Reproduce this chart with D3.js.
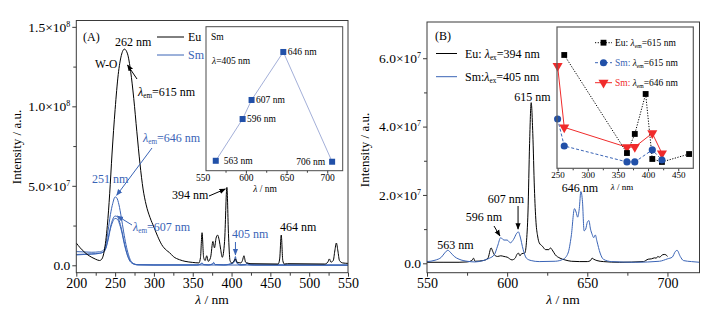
<!DOCTYPE html>
<html>
<head>
<meta charset="utf-8">
<script src="https://cdn.jsdelivr.net/npm/d3@7"></script>
<style>
  body { margin: 0; background: #fff; }
  svg text { font-family: "Liberation Serif", "DejaVu Serif", serif; }
</style>
</head>
<body>
<svg id="chart" width="715" height="310"></svg>
<script>
// ---- data (intensities in units of 1e6) ----
// Panel A: excitation spectra
const euExcitation = [[200,14],[205,11],[210,8.5],[215,6.5],[220,5],[225,3.8],[230,3],[233,4],[236,9],[240,25],[243,45],[246,70],[250,98],[254,120],[258,132],[262,136],[266,133],[270,122],[274,105],[278,84],[282,64],[286,48],[290,38],[295,30],[300,24],[305,18],[310,13],[316,9.5],[320,8],[325,5.5],[333,3.5],[340,2.5],[350,1.8],[358,1.5],[360,5],[362,20.5],[364,5],[366,3],[368,6],[370,2.5],[373,5],[376,15],[378,11],[380,17],[382,19],[384,16],[386,10],[388,5],[391,15],[394,49],[396,20],[398,3],[400,1.5],[403,2.5],[405,4],[407,2],[412,1.5],[414,3],[416,6],[418,2],[420,1.5],[425,1],[460,0.8],[462,4],[464,19],[466,3],[468,0.8],[472,1],[520,0.8],[524,2],[526,4],[528,2],[531,3],[533,9],[535,14],[537,9],[539,3],[543,1.5],[550,1.2]];
const smExcitation646 = [[200,8.6],[210,8.4],[220,8.2],[230,8.5],[235,9.5],[238,13],[241,22],[244,32],[247,39],[250,43],[252,42.5],[255,38],[258,30],[261,21],[264,13],[267,7],[270,3],[274,1],[280,0.3],[300,0.2],[355,0.2],[360,0.8],[362,1.5],[364,0.5],[370,0.3],[375,0.8],[377,1.8],[379,0.5],[390,0.3],[402,1.5],[404,4],[405,5.5],[406,3],[408,1],[412,0.3],[418,0.5],[420,1.5],[422,0.5],[430,0.2],[550,0.1]];
const smExcitation607 = [[200,6.5],[210,6.8],[220,7],[230,7.5],[235,8.5],[238,11],[241,17],[244,24],[247,29],[250,31],[253,30.5],[256,27],[259,21],[262,14],[265,8],[268,4],[272,1.5],[278,0.4],[300,0.2],[355,0.2],[360,0.6],[362,1.1],[364,0.4],[370,0.2],[375,0.6],[377,1.3],[379,0.4],[390,0.2],[402,1.2],[404,3],[405,3.8],[406,2.2],[408,0.8],[412,0.2],[418,0.4],[420,1.1],[422,0.4],[430,0.2],[550,0.1]];
const smExcitation596 = [[200,6.8],[210,7],[220,7.2],[230,7.6],[235,8.3],[238,10.5],[241,16],[244,23],[247,27.5],[250,29.5],[253,29],[256,25.5],[259,20],[262,13],[265,7.5],[268,3.5],[272,1.2],[278,0.3],[300,0.2],[550,0.1]];

// Panel A inset: Sm, lambda = 405 nm
const insetAWl = [563, 596, 607, 646, 706];
const insetAVal = [0.62, 3.23, 4.42, 7.42, 0.56];
const insetALabels = ["563 nm", "596 nm", "607 nm", "646 nm", "706 nm"];

// Panel B: emission spectra
const euEmission = [[550,0.3],[560,0.3],[570,0.3],[575,0.4],[578,0.8],[579,1.5],[580,0.6],[585,0.8],[588,1.5],[590,4.5],[591,3.5],[592,2.5],[594,2],[596,2.2],[598,2],[600,1.8],[603,1],[605,1.5],[606,2.5],[607,3],[608,2.2],[609,2.8],[611,3],[612,6],[613,15],[614,35],[615,47],[616,38],[617,22],[618,12],[619,8],[620,6],[622,5],[624,4],[626,4],[627,4.5],[628,4],[630,2.5],[633,1.5],[636,1],[640,0.6],[645,0.5],[650,0.5],[652,0.8],[653,1.5],[654,1.2],[656,0.8],[660,0.5],[670,0.3],[685,0.5],[688,1.2],[690,1.3],[692,1.6],[693,1.5],[694,2],[695,1.8],[697,2.5],[698,2.6],[699,2.5],[700,2]];
const smEmission = [[550,0.5],[555,0.9],[559,1.8],[561,3],[563,3.8],[565,3],[567,2],[570,1.2],[575,0.6],[580,0.4],[585,0.8],[589,1.5],[592,2.5],[594,5],[596,7.5],[598,6.8],[600,6.8],[602,6],[604,7],[606,8.8],[607,9.2],[608,8],[610,4],[612,1.5],[615,0.8],[620,0.5],[630,0.6],[635,1.2],[638,3],[640,8],[642,16],[643,15],[644,13.5],[645,16],[646,21],[647,18],[648,9.5],[649,10],[650,12],[651,12.5],[652,10],[653,8.5],[654,7.5],[655,8.3],[656,6.5],[658,3],[660,1.2],[665,0.5],[680,0.3],[695,0.6],[700,1.3],[703,1.8],[705,3.5],[706,3.8],[708,2],[710,0.8],[715,0.5],[720,0.3]];

// Panel B inset: excitation wavelength vs intensity
const insetBEuWl = [261, 365, 378, 396, 407, 423, 468];
const insetBEuVal = [8.02, 1.08, 2.43, 5.26, 0.66, 0.45, 1.01];
const insetBSm615Wl = [250, 261, 365, 378, 407, 423];
const insetBSm615Val = [3.49, 1.58, 0.45, 0.45, 1.30, 0.59];
const insetBSm646Wl = [250, 261, 365, 378, 407, 423];
const insetBSm646Val = [7.24, 2.90, 1.49, 1.51, 2.48, 1.06];

const BLUE = "#3a64b6";
const RED = "#f02b2b";
const FRAME = "#3a3a3a";
const TXT = 12; // annotation font size

const svg = d3.select("#chart");
svg.append("rect").attr("width", 715).attr("height", 310).attr("fill", "#fff");

const defs = svg.append("defs");
function arrowMarker(id, colour) {
  defs.append("marker")
    .attr("id", id)
    .attr("viewBox", "0 0 10 10")
    .attr("refX", 9).attr("refY", 5)
    .attr("markerWidth", 6.5).attr("markerHeight", 6.5)
    .attr("orient", "auto-start-reverse")
    .append("path")
    .attr("d", "M0,1 L10,5 L0,9 Z")
    .attr("fill", colour);
}
arrowMarker("arrowK", "#000");
arrowMarker("arrowB", BLUE);

// rich text: segments {t, it, sub, fill}
function richText(sel, x, y, segs, opts = {}) {
  const t = sel.append("text")
    .attr("x", x).attr("y", y)
    .attr("font-size", opts.size || TXT)
    .attr("fill", opts.fill || "#000")
    .attr("text-anchor", opts.anchor || "start");
  segs.forEach((s) => {
    const ts = t.append("tspan").text(s.t);
    if (s.it) ts.attr("font-style", "italic");
    if (s.fill) ts.attr("fill", s.fill);
    if (s.sub) ts.attr("baseline-shift", "-30%").attr("font-size", "60%");
  });
  return t;
}

function styleAxis(g, size) {
  g.attr("font-family", null);
  g.select(".domain").remove();
  g.selectAll(".tick line").attr("stroke", FRAME);
  g.selectAll(".tick text").attr("fill", "#000").attr("font-size", size);
}

function sciTicks(g, expOf, mantOf) {
  g.selectAll(".tick text").each(function (d) {
    const el = d3.select(this);
    el.text("");
    if (d === 0) { el.append("tspan").text("0.0"); return; }
    el.append("tspan").text(mantOf(d).toFixed(1) + "\u00d710");
    el.append("tspan").text(expOf(d)).attr("dy", -5).attr("font-size", 8);
  });
}

function drawFrame(x0, y0, x1, y1, colour, width) {
  svg.append("rect")
    .attr("x", x0).attr("y", y0)
    .attr("width", x1 - x0).attr("height", y1 - y0)
    .attr("fill", "none").attr("stroke", colour).attr("stroke-width", width);
}

// ================= Panel A =================
const xA = d3.scaleLinear().domain([200, 550]).range([76.3, 348]);
const yA = d3.scaleLinear().domain([-4.66, 154]).range([272.7, 20.5]);
const lineA = d3.line().x((d) => xA(d[0])).y((d) => yA(d[1])).curve(d3.curveMonotoneX);

[smExcitation596, smExcitation607, smExcitation646].forEach((s) => {
  svg.append("path").datum(s).attr("d", lineA)
    .attr("fill", "none").attr("stroke", BLUE).attr("stroke-width", 1);
});
svg.append("path").datum(euExcitation).attr("d", lineA)
  .attr("fill", "none").attr("stroke", "#000").attr("stroke-width", 1);

let ax = svg.append("g").attr("transform", "translate(0,272.7)")
  .call(d3.axisBottom(xA).tickValues(d3.range(200, 551, 50)).tickSize(4).tickSizeOuter(0).tickPadding(1));
styleAxis(ax, 14);
ax = svg.append("g").attr("transform", "translate(0,272.7)")
  .call(d3.axisBottom(xA).tickValues(d3.range(225, 550, 50)).tickSize(3).tickFormat(""));
styleAxis(ax, 14);
ax = svg.append("g").attr("transform", "translate(76.3,0)")
  .call(d3.axisLeft(yA).tickValues([0, 50, 100, 150]).tickSize(4).tickPadding(2));
styleAxis(ax, 13.5);
sciTicks(ax, (d) => (d >= 100 ? 8 : 7), (d) => (d >= 100 ? d / 100 : d / 10));
ax = svg.append("g").attr("transform", "translate(76.3,0)")
  .call(d3.axisLeft(yA).tickValues([25, 75, 125]).tickSize(3).tickFormat(""));
styleAxis(ax, 13.5);

drawFrame(76.3, 20.5, 348, 272.7, FRAME, 1);

richText(svg, 212, 304, [{ t: "\u03bb", it: true }, { t: " / nm" }], { anchor: "middle", size: 13.5 });
svg.append("text").attr("transform", "translate(21,147) rotate(-90)")
  .attr("text-anchor", "middle").attr("font-size", 13).text("Intensity / a.u.");

richText(svg, 83, 41, [{ t: "(A)" }]);
richText(svg, 115, 45.5, [{ t: "262 nm" }]);
svg.append("line").attr("x1", 157).attr("x2", 184).attr("y1", 37).attr("y2", 37).attr("stroke", "#000");
richText(svg, 188, 41, [{ t: "Eu" }]);
svg.append("line").attr("x1", 157).attr("x2", 184).attr("y1", 55).attr("y2", 55).attr("stroke", BLUE);
richText(svg, 188, 59, [{ t: "Sm" }], { fill: BLUE });
richText(svg, 95, 67.5, [{ t: "W-O" }], { size: 11.5 });

svg.append("line").attr("x1", 137).attr("y1", 79).attr("x2", xA(266)).attr("y2", yA(126))
  .attr("stroke", "#000").attr("marker-end", "url(#arrowK)");
richText(svg, 138, 95.5, [{ t: "\u03bb", it: true }, { t: "em", sub: true }, { t: "=615 nm" }]);

richText(svg, 143, 142, [{ t: "\u03bb", it: true }, { t: "em", sub: true }, { t: "=646 nm" }], { fill: BLUE });
svg.append("line").attr("x1", 152).attr("y1", 148).attr("x2", xA(252)).attr("y2", yA(44))
  .attr("stroke", BLUE).attr("marker-end", "url(#arrowB)");
richText(svg, 92, 182.5, [{ t: "251 nm" }], { fill: BLUE });
richText(svg, 133, 230.5, [{ t: "\u03bb", it: true }, { t: "em", sub: true }, { t: "=607 nm" }], { fill: BLUE });
svg.append("line").attr("x1", 132).attr("y1", 225).attr("x2", xA(253)).attr("y2", yA(31))
  .attr("stroke", BLUE).attr("marker-end", "url(#arrowB)");

richText(svg, 172, 199, [{ t: "394 nm" }]);
svg.append("line").attr("x1", 209).attr("y1", 196).attr("x2", xA(392)).attr("y2", yA(48))
  .attr("stroke", "#000").attr("marker-end", "url(#arrowK)");
richText(svg, 232, 237.5, [{ t: "405 nm" }], { fill: BLUE });
svg.append("line").attr("x1", xA(405)).attr("y1", 242).attr("x2", xA(405)).attr("y2", yA(6.5))
  .attr("stroke", BLUE).attr("marker-end", "url(#arrowB)");
richText(svg, 280, 231, [{ t: "464 nm" }]);

// inset A
const iaX0 = 206, iaX1 = 342.7, iaY0 = 26.7, iaY1 = 170.7;
const xIA = d3.scaleLinear().domain([551, 719]).range([iaX0, iaX1]);
const yIA = d3.scaleLinear().domain([0, 9]).range([iaY1, iaY0]);
svg.append("rect").attr("x", iaX0).attr("y", iaY0).attr("width", iaX1 - iaX0).attr("height", iaY1 - iaY0).attr("fill", "#fff");
const ptsA = insetAWl.map((w, i) => [w, insetAVal[i], insetALabels[i]]);
svg.append("path").datum(ptsA)
  .attr("d", d3.line().x((d) => xIA(d[0])).y((d) => yIA(d[1])))
  .attr("fill", "none").attr("stroke", "#98a6d4").attr("stroke-width", 0.9);
svg.selectAll(".iaPt").data(ptsA).join("rect").attr("class", "iaPt")
  .attr("x", (d) => xIA(d[0]) - 3).attr("y", (d) => yIA(d[1]) - 3)
  .attr("width", 6).attr("height", 6).attr("fill", "#2150a8");
svg.selectAll(".iaLbl").data(ptsA).join("text").attr("class", "iaLbl")
  .attr("x", (d) => (d[0] > 700 ? xIA(d[0]) - 7 : xIA(d[0]) + (d[0] < 570 ? 8 : 4.5)))
  .attr("y", (d) => yIA(d[1]) + 3)
  .attr("text-anchor", (d) => (d[0] > 700 ? "end" : "start"))
  .attr("font-size", 9.5).text((d) => d[2]);
ax = svg.append("g").attr("transform", `translate(0,${iaY1})`)
  .call(d3.axisBottom(xIA).tickValues([600, 650, 700]).tickSize(3).tickPadding(1));
styleAxis(ax, 9.5);
ax = svg.append("g").attr("transform", `translate(0,${iaY1})`)
  .call(d3.axisBottom(xIA).tickValues([575, 625, 675]).tickSize(2).tickFormat(""));
styleAxis(ax, 9.5);
richText(svg, 203, 180.5, [{ t: "550" }], { size: 9.5, anchor: "middle" });
drawFrame(iaX0, iaY0, iaX1, iaY1, "#4a4a4a", 1);
richText(svg, 211, 40, [{ t: "Sm" }], { size: 9.5 });
richText(svg, 212, 64, [{ t: "\u03bb", it: true }, { t: "=405 nm" }], { size: 9.5 });
richText(svg, 265, 192, [{ t: "\u03bb", it: true }, { t: " / nm" }], { size: 9.5, anchor: "middle" });

// ================= Panel B =================
const xB = d3.scaleLinear().domain([550, 720]).range([427, 699.5]);
const yB = d3.scaleLinear().domain([-2.75, 70.6]).range([272.7, 22]);
const lineB = d3.line().x((d) => xB(d[0])).y((d) => yB(d[1])).curve(d3.curveMonotoneX);

svg.append("path").datum(euEmission).attr("d", lineB)
  .attr("fill", "none").attr("stroke", "#000").attr("stroke-width", 1);
svg.append("path").datum(smEmission).attr("d", lineB)
  .attr("fill", "none").attr("stroke", BLUE).attr("stroke-width", 1);

ax = svg.append("g").attr("transform", "translate(0,272.7)")
  .call(d3.axisBottom(xB).tickValues([550, 600, 650, 700]).tickSize(4).tickPadding(1));
styleAxis(ax, 14);
ax = svg.append("g").attr("transform", "translate(0,272.7)")
  .call(d3.axisBottom(xB).tickValues([575, 625, 675]).tickSize(3).tickFormat(""));
styleAxis(ax, 14);
ax = svg.append("g").attr("transform", "translate(427,0)")
  .call(d3.axisLeft(yB).tickValues([0, 20, 40, 60]).tickSize(4).tickPadding(2));
styleAxis(ax, 13.5);
sciTicks(ax, () => 7, (d) => d / 10);
ax = svg.append("g").attr("transform", "translate(427,0)")
  .call(d3.axisLeft(yB).tickValues([10, 30, 50]).tickSize(3).tickFormat(""));
styleAxis(ax, 13.5);
drawFrame(427, 22, 699.5, 272.7, FRAME, 1);

richText(svg, 563, 304, [{ t: "\u03bb", it: true }, { t: " / nm" }], { anchor: "middle", size: 13.5 });
svg.append("text").attr("transform", "translate(369,150) rotate(-90)")
  .attr("text-anchor", "middle").attr("font-size", 13).text("Intensity / a.u.");

richText(svg, 435, 39.5, [{ t: "(B)" }]);
svg.append("line").attr("x1", 436).attr("x2", 457).attr("y1", 53.5).attr("y2", 53.5).attr("stroke", "#000");
richText(svg, 465, 57.5, [{ t: "Eu: " }, { t: "\u03bb", it: true }, { t: "ex", sub: true }, { t: "=394 nm" }]);
svg.append("line").attr("x1", 436).attr("x2", 457).attr("y1", 76.7).attr("y2", 76.7).attr("stroke", BLUE);
richText(svg, 465, 81, [{ t: "Sm:" }, { t: "\u03bb", it: true }, { t: "ex", sub: true }, { t: "=405 nm" }]);

richText(svg, 532.5, 101, [{ t: "615 nm" }], { anchor: "middle" });
richText(svg, 580, 192, [{ t: "646 nm" }], { anchor: "middle" });
richText(svg, 506, 203, [{ t: "607 nm" }], { anchor: "middle" });
svg.append("line").attr("x1", xB(606.8)).attr("y1", 206).attr("x2", xB(606.8)).attr("y2", yB(10))
  .attr("stroke", "#000").attr("marker-end", "url(#arrowK)");
richText(svg, 484, 221, [{ t: "596 nm" }], { anchor: "middle" });
svg.append("line").attr("x1", 494).attr("y1", 226).attr("x2", xB(595.5)).attr("y2", yB(8))
  .attr("stroke", "#000").attr("marker-end", "url(#arrowK)");
richText(svg, 455.5, 249, [{ t: "563 nm" }], { anchor: "middle" });

// inset B
const ibX0 = 557, ibX1 = 693.3, ibY0 = 27, ibY1 = 168.3;
const xIB = d3.scaleLinear().domain([249, 475]).range([ibX0, ibX1]);
const yIB = d3.scaleLinear().domain([0, 10]).range([ibY1, ibY0]);
svg.append("rect").attr("x", ibX0).attr("y", ibY0).attr("width", ibX1 - ibX0).attr("height", ibY1 - ibY0).attr("fill", "#fff");
const lineIB = d3.line().x((d) => xIB(d[0])).y((d) => yIB(d[1]));
const euPts = insetBEuWl.map((w, i) => [w, insetBEuVal[i]]);
const sm615Pts = insetBSm615Wl.map((w, i) => [w, insetBSm615Val[i]]);
const sm646Pts = insetBSm646Wl.map((w, i) => [w, insetBSm646Val[i]]);

svg.append("path").datum(sm646Pts).attr("d", lineIB).attr("fill", "none").attr("stroke", RED).attr("stroke-width", 1);
svg.append("path").datum(sm615Pts).attr("d", lineIB).attr("fill", "none").attr("stroke", BLUE)
  .attr("stroke-width", 1).attr("stroke-dasharray", "3,2");
svg.append("path").datum(euPts).attr("d", lineIB).attr("fill", "none").attr("stroke", "#000")
  .attr("stroke-width", 1).attr("stroke-dasharray", "1.2,1.5");

const sym = {
  sq: d3.symbol().type(d3.symbolSquare).size(34),
  ci: d3.symbol().type(d3.symbolCircle).size(40),
  tri: d3.symbol().type(d3.symbolTriangle).size(44),
};
function markers(pts, path, fill, rot) {
  svg.append("g").selectAll("path").data(pts).join("path")
    .attr("d", path)
    .attr("transform", (d) => `translate(${xIB(d[0])},${yIB(d[1])})${rot ? " rotate(180)" : ""}`)
    .attr("fill", fill);
}
markers(sm646Pts, sym.tri(), RED, true);
markers(euPts, sym.sq(), "#000", false);
markers(sm615Pts, sym.ci(), "#2150a8", false);

ax = svg.append("g").attr("transform", `translate(0,${ibY1})`)
  .call(d3.axisBottom(xIB).tickValues([250, 300, 350, 400, 450]).tickSize(3).tickPadding(0));
styleAxis(ax, 9);
ax = svg.append("g").attr("transform", `translate(0,${ibY1})`)
  .call(d3.axisBottom(xIB).tickValues([275, 325, 375, 425]).tickSize(2).tickFormat(""));
styleAxis(ax, 9);
drawFrame(ibX0, ibY0, ibX1, ibY1, "#5a5a5a", 1.2);
richText(svg, 622, 189.5, [{ t: "\u03bb", it: true }, { t: " / nm" }], { size: 9, anchor: "middle" });

// inset B legend
const legB = [
  { y: 42.7, col: "#000", dash: "1.2,1.5", sym: sym.sq(), rot: false, head: "Eu:", tail: "=615 nm", mfill: "#000" },
  { y: 62.7, col: BLUE, dash: "3,2", sym: sym.ci(), rot: false, head: "Sm:", tail: "=615 nm", mfill: "#2150a8" },
  { y: 82.7, col: RED, dash: null, sym: sym.tri(), rot: true, head: "Sm:", tail: "=646 nm", mfill: RED },
];
legB.forEach((l) => {
  const ln = svg.append("line").attr("x1", 595).attr("x2", 612).attr("y1", l.y).attr("y2", l.y).attr("stroke", l.col);
  if (l.dash) ln.attr("stroke-dasharray", l.dash);
  svg.append("path").attr("d", l.sym).attr("fill", l.mfill)
    .attr("transform", `translate(603.5,${l.y})${l.rot ? " rotate(180)" : ""}`);
  richText(svg, 615, l.y + 3.3, [
    { t: l.head + " ", fill: l.col },
    { t: "\u03bb", it: true }, { t: "em", sub: true }, { t: l.tail },
  ], { size: 9.5 });
});
</script>
</body>
</html>
